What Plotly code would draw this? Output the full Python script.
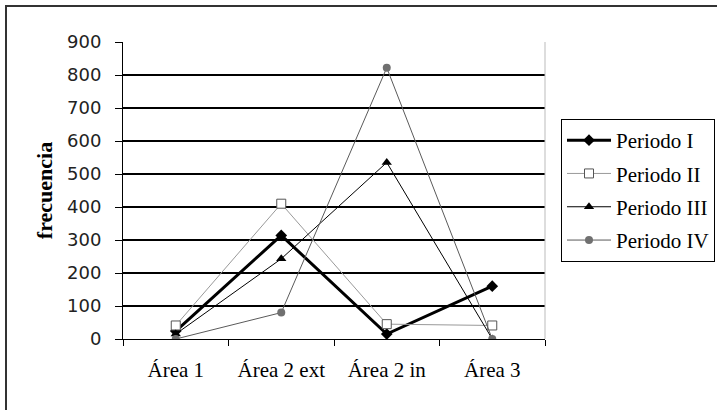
import plotly.graph_objects as go

categories = ["Área 1", "Área 2 ext", "Área 2 in", "Área 3"]
periodo_1 = [24, 314, 15, 160]
periodo_2 = [41, 410, 45, 41]
periodo_3 = [15, 243, 535, 0]
periodo_4 = [0, 80, 822, 0]
y_ticks = [0, 100, 200, 300, 400, 500, 600, 700, 800, 900]

L, R, T, B = 123, 545, 42, 339
W, H = 717, 410
pw, ph = R - L, B - T

fig = go.Figure()
fig.add_trace(go.Scatter(x=categories, y=periodo_1, name="Periodo I", mode="lines+markers",
                         line=dict(color="black", width=3),
                         marker=dict(symbol="diamond", size=9, color="black"),
                         legendgroup="a"))
fig.add_trace(go.Scatter(x=categories, y=periodo_2, name="Periodo II", mode="lines+markers",
                         line=dict(color="#999999", width=1),
                         marker=dict(symbol="square", size=9, color="white",
                                     line=dict(color="#555555", width=1)),
                         legendgroup="b"))
fig.add_trace(go.Scatter(x=categories, y=periodo_3, name="Periodo III", mode="lines+markers",
                         line=dict(color="black", width=1),
                         marker=dict(symbol="triangle-up", size=9, color="black"),
                         legendgroup="c"))
fig.add_trace(go.Scatter(x=categories, y=periodo_4, name="Periodo IV", mode="lines+markers",
                         line=dict(color="#5a5a5a", width=1),
                         marker=dict(symbol="circle", size=8, color="#707070"),
                         legendgroup="d"))

fig.update_layout(
    width=W, height=H,
    margin=dict(l=L, r=W - R, t=T, b=H - B, pad=0, autoexpand=False),
    paper_bgcolor="white", plot_bgcolor="white",
    showlegend=True,
    legend=dict(x=(561 - L) / pw, y=(B - 119) / ph, xanchor="left", yanchor="top",
                bordercolor="black", borderwidth=1, bgcolor="white",
                font=dict(family="Liberation Serif", size=21, color="black"),
                tracegroupgap=3, itemwidth=44, entrywidth=150),
    xaxis=dict(type="category", range=[-0.5, 3.5], tickson="boundaries",
               ticks="outside", ticklen=6, tickcolor="black", tickwidth=1,
               ticklabelstandoff=12,
               showgrid=False, showline=True, linecolor="black", linewidth=1,
               tickfont=dict(family="Liberation Serif", size=21, color="black"),
               fixedrange=True),
    yaxis=dict(range=[0, 900], tickvals=y_ticks, ticks="outside", ticklen=7,
               tickcolor="black", showgrid=True, gridcolor="black", gridwidth=1.5,
               showline=True, linecolor="black", linewidth=1, zeroline=False,
               ticklabelstandoff=10,
               tickfont=dict(family="DejaVu Sans", size=18, color="#222222"),
               title=dict(text="<b>frecuencia</b>", standoff=8,
                          font=dict(family="Liberation Serif", size=22, color="black"))),
    shapes=[
        dict(type="line", xref="paper", yref="paper", x0=1, x1=1, y0=0, y1=1,
             line=dict(color="#bbbbbb", width=1)),
        dict(type="rect", xref="paper", yref="paper",
             x0=(6 - L) / pw, x1=(W + 5 - L) / pw,
             y0=(B - (H + 5)) / ph, y1=(B - 6) / ph,
             line=dict(color="#333333", width=2), fillcolor="rgba(0,0,0,0)", layer="below"),
    ],
)

fig.write_html("out.html", config={"displayModeBar": False},
               post_script="document.body.style.margin='0';document.body.style.overflow='hidden';")
